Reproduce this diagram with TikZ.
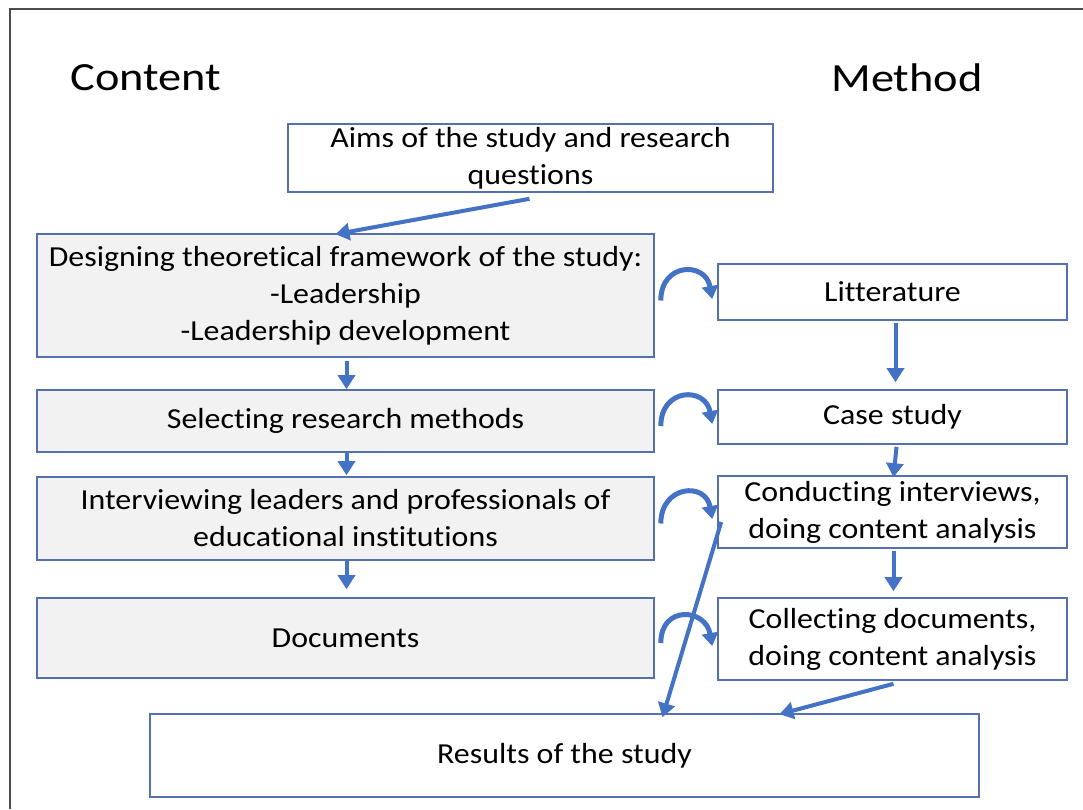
\documentclass[tikz,border=0pt]{standalone}
\usepackage{fontspec}
\setmainfont{Carlito}[Ligatures=NoCommon,FakeStretch=1.1]
\newfontfamily\headfont{Carlito}[Ligatures=NoCommon,FakeStretch=1.16]
\usetikzlibrary{arrows.meta}

\definecolor{arrowblue}{RGB}{68,114,196}
\definecolor{boxline}{RGB}{84,112,176}
\definecolor{boxgray}{RGB}{242,242,242}

\begin{document}
\begin{tikzpicture}[x=1pt,y=-1pt,
		every node/.style={font=\fontsize{29}{37}\selectfont},
		stage/.style={draw=boxline,line width=1.6pt,fill=boxgray,inner sep=0pt,align=center},
		way/.style={draw=boxline,line width=1.6pt,fill=white,inner sep=0pt,align=center},
		head/.style={font=\headfont\fontsize{40}{48}\selectfont},
		flow/.style={arrowblue,line width=4pt,-{Triangle[width=17pt,length=14pt]}},
		turn/.style={arrowblue,line width=5pt,-{Triangle[width=16pt,length=13pt]}}]
		\useasboundingbox (0,0) rectangle (1083,809);
		\draw[gray!60!black,line width=2pt] (10,809) -- (10,9) -- (1083,9);

		\node[head] (content) at (146,78) {Content};
		\node[head] (method) at (907,78) {Method};

		\node[way,minimum width=485pt,minimum height=68pt] (aims) at (530.5,158) {Aims of the study and research\\questions};

		% left column
		\node[stage,minimum width=617pt,minimum height=123pt] (design) at (345.5,295.5) {Designing theoretical framework of the study:\\-Leadership\\-Leadership development};
		\node[stage,minimum width=617pt,minimum height=62pt] (select) at (345.5,421) {Selecting research methods};
		\node[stage,minimum width=617pt,minimum height=83pt] (interv) at (345.5,518.5) {Interviewing leaders and professionals of\\educational institutions};
		\node[stage,minimum width=617pt,minimum height=80pt] (docs) at (345.5,638) {Documents};

		% right column
		\node[way,minimum width=349pt,minimum height=56pt] (lit) at (892.5,292) {Litterature};
		\node[way,minimum width=349pt,minimum height=54pt] (casest) at (892.5,417) {Case study};
		\node[way,minimum width=349pt,minimum height=72pt] (conduct) at (892.5,512) {Conducting interviews,\\doing content analysis};
		\node[way,minimum width=349pt,minimum height=82pt] (collect) at (892.5,639) {Collecting documents,\\doing content analysis};

		\node[way,minimum width=829pt,minimum height=83pt] (results) at (564.5,755.5) {Results of the study};

		\draw[flow] ([yshift=-6pt,xshift=-1pt]aims.south) -- ([xshift=-10pt,yshift=-1pt]design.north);
		\draw[flow] ([xshift=1pt,yshift=-3pt]design.south) -- ([xshift=1pt]select.north);
		\draw[flow] ([xshift=1pt]select.south) -- ([xshift=1pt,yshift=1pt]interv.north);
		\draw[flow] ([xshift=1pt]interv.south) -- ([xshift=1pt,yshift=8pt]docs.north);

		\draw[flow] ([xshift=3pt,yshift=-2pt]lit.south) -- ([xshift=3pt,yshift=7pt]casest.north);
		\draw[flow] ([xshift=4pt,yshift=-2pt]casest.south) -- ([xshift=1pt,yshift=-2pt]conduct.north);
		\draw[flow] ([xshift=1pt,yshift=-2pt]conduct.south) -- ([xshift=1pt,yshift=6pt]collect.north);

		\draw[flow] ([xshift=1pt,yshift=-3pt]collect.south) -- ([xshift=215pt,yshift=-1pt]results.north);
		\draw[flow] ([xshift=4pt,yshift=-10pt]conduct.west) -- ([xshift=98pt,yshift=-4pt]results.north);

		% curved arrows from content to method
		\foreach \a/\b in {design/lit,select/casest,interv/conduct,docs/collect}
			\draw[turn] ([xshift=6pt,yshift=-5pt]\a.east) to[out=90,in=100,looseness=1.9] ([xshift=-5pt,yshift=-7pt]\b.west);
	\end{tikzpicture}
\end{document}
